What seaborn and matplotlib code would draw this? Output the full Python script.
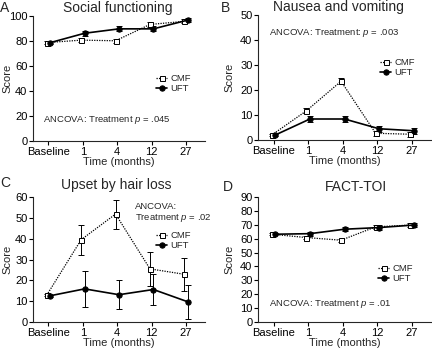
import numpy as np
import pandas as pd
import seaborn as sns
from matplotlib import pyplot as plt

# time points (x categories)
times = ['Baseline', '1', '4', '12', '27']

# A - Social functioning
sf_cmf = [78.5, 80.5, 80.0, 93.0, 95.5]
sf_cmf_err = [1.0, 1.5, 1.5, 2.0, 1.5]
sf_uft = [78.5, 86.0, 89.5, 89.5, 96.5]
sf_uft_err = [1.0, 2.0, 2.0, 2.0, 1.8]

# B - Nausea and vomiting
nv_cmf = [2.0, 11.7, 23.5, 2.7, 2.3]
nv_cmf_err = [0.5, 1.0, 1.2, 1.0, 1.0]
nv_uft = [2.0, 8.4, 8.4, 4.5, 3.7]
nv_uft_err = [0.5, 1.2, 1.2, 1.2, 1.3]

# C - Upset by hair loss
hl_cmf = [12.9, 39.5, 51.8, 25.5, 22.9]
hl_cmf_err = [0.5, 7.3, 7.0, 8.0, 8.0]
hl_uft = [12.6, 15.9, 13.1, 15.6, 9.7]
hl_uft_err = [0.5, 8.7, 7.0, 7.5, 8.2]

# D - FACT-TOI
toi_cmf = [63.2, 60.8, 58.9, 68.5, 69.8]
toi_cmf_err = [0.7, 1.2, 1.2, 1.2, 1.2]
toi_uft = [63.2, 63.6, 66.8, 68.0, 69.8]
toi_uft_err = [0.7, 1.5, 1.5, 1.5, 1.2]

sns.set_style('ticks')
plt.rcParams['font.family'] = ['Liberation Sans', 'DejaVu Sans']
plt.rcParams['axes.linewidth'] = 0.8
plt.rcParams['mathtext.fontset'] = 'custom'
plt.rcParams['mathtext.rm'] = 'Liberation Sans'
plt.rcParams['mathtext.it'] = 'Liberation Sans:italic'

fig = plt.figure(figsize=(4.32, 3.48), dpi=100)
W, H = 432.0, 348.0

def make_ax(x0, x1, ytop, ybot):
    return fig.add_axes([x0 / W, 1 - ybot / H, (x1 - x0) / W, (ybot - ytop) / H])

panels = [
    dict(ax=make_ax(33, 205, 15.7, 141), letter='A', lxy=(0, 12), title='Social functioning', txy=(118, 12),
         cmf=sf_cmf, cmf_err=sf_cmf_err, uft=sf_uft, uft_err=sf_uft_err, ymax=100, ystep=20,
         note=[('ANCOVA: Treatment $\\it{p}$ = .045', 43, 122)], leg=(156, 74), ylx=7),
    dict(ax=make_ax(258, 431, 15, 140), letter='B', lxy=(221, 12), title='Nausea and vomiting', txy=(338, 11),
         cmf=nv_cmf, cmf_err=nv_cmf_err, uft=nv_uft, uft_err=nv_uft_err, ymax=50, ystep=10,
         note=[('ANCOVA: Treatment: $\\it{p}$ = .003', 269, 35)], leg=(380, 58), ylx=229),
    dict(ax=make_ax(33, 205, 197, 322), letter='C', lxy=(0, 187), title='Upset by hair loss', txy=(116, 189),
         cmf=hl_cmf, cmf_err=hl_cmf_err, uft=hl_uft, uft_err=hl_uft_err, ymax=60, ystep=10,
         note=[('ANCOVA:', 135, 209), ('Treatment $\\it{p}$ = .02', 135, 220)], leg=(156, 231), ylx=7),
    dict(ax=make_ax(258, 431, 197, 322), letter='D', lxy=(223, 191), title='FACT-TOI', txy=(356, 191),
         cmf=toi_cmf, cmf_err=toi_cmf_err, uft=toi_uft, uft_err=toi_uft_err, ymax=90, ystep=10,
         note=[('ANCOVA: Treatment $\\it{p}$ = .01', 269, 306)], leg=(378, 264), ylx=229),
]

pos = np.arange(len(times))
dodge = 0.05

for p in panels:
    ax = p['ax']
    df = pd.DataFrame({
        'x': np.concatenate([pos - dodge, pos + dodge]),
        'score': p['cmf'] + p['uft'],
        'err': p['cmf_err'] + p['uft_err'],
        'group': ['CMF'] * len(times) + ['UFT'] * len(times),
    })
    cmf = df[df['group'] == 'CMF']
    uft = df[df['group'] == 'UFT']

    ax.errorbar(cmf['x'], cmf['score'], yerr=cmf['err'], fmt='none', ecolor='black',
                elinewidth=0.7, capsize=2, capthick=0.7, zorder=2)
    ax.errorbar(uft['x'], uft['score'], yerr=uft['err'], fmt='none', ecolor='black',
                elinewidth=0.7, capsize=2, capthick=0.7, zorder=2)
    sns.lineplot(data=cmf, x='x', y='score', ax=ax, color='black', marker='s', markersize=3.6,
                 markerfacecolor='white', markeredgecolor='black', markeredgewidth=0.7,
                 linestyle=(0, (1, 1)), linewidth=0.9, label='CMF', zorder=3)
    sns.lineplot(data=uft, x='x', y='score', ax=ax, color='black', marker='o', markersize=3.8,
                 markeredgecolor='black', linewidth=1.2, label='UFT', zorder=4)

    ax.set_xlim(-0.45, 4.55)
    ax.set_ylim(0, p['ymax'])
    ax.set_xticks(pos)
    ax.set_xticklabels(times)
    ax.set_yticks(np.arange(0, p['ymax'] + 1, p['ystep']))
    ax.tick_params(axis='both', labelsize=8, length=3, width=0.8, pad=1, colors='black')
    ax.set_xlabel('Time (months)', fontsize=8, labelpad=0)
    ax.set_ylabel('')
    sns.despine(ax=ax)

    # y label placed in figure pixels
    bb = ax.get_position()
    fig.text(p['ylx'] / W, (bb.y0 + bb.y1) / 2, 'Score', rotation=90, fontsize=8,
             ha='center', va='center')
    fig.text(p['lxy'][0] / W, 1 - p['lxy'][1] / H, p['letter'], fontsize=10, ha='left', va='baseline')
    fig.text(p['txy'][0] / W, 1 - p['txy'][1] / H, p['title'], fontsize=10, ha='center', va='baseline')
    for txt, tx, ty in p['note']:
        fig.text(tx / W, 1 - ty / H, txt, fontsize=6.8, ha='left', va='baseline')

    lx, ly = p['leg']
    x0, y0 = bb.x0 * W, (1 - bb.y1) * H
    ax.legend(loc='upper left', frameon=False, fontsize=6.8, handlelength=1.2, handletextpad=0.3,
              borderpad=0, borderaxespad=0, labelspacing=0.15,
              bbox_to_anchor=((lx - x0) / (bb.width * W), 1 - (ly - y0) / (bb.height * H)))

fig.savefig('out.png', dpi=100)
